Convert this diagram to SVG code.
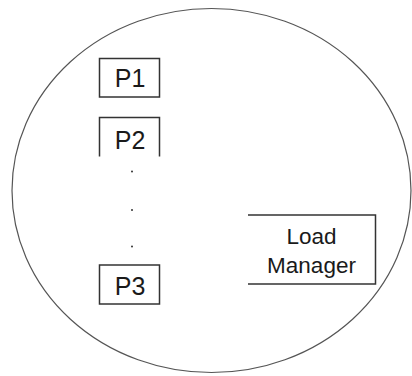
<svg xmlns="http://www.w3.org/2000/svg" width="412" height="376" viewBox="0 0 412 376">
<style>
.box{fill:none;stroke:#333;stroke-width:1.5}
.lbl{font-family:"Liberation Sans",Arial,sans-serif;fill:#1a1a1a;text-anchor:middle}
.dot{fill:#333}
</style>
<rect width="412" height="376" fill="#fff"/>
<g id="container">
<ellipse cx="211.5" cy="190.5" rx="199.5" ry="182" fill="none" stroke="#555" stroke-width="1.2"/>
</g>
<g id="p1">
<rect class="box" x="99.5" y="58.5" width="60" height="38.5"/>
<text class="lbl" x="130" y="87" font-size="25">P1</text>
</g>
<g id="p2">
<path class="box" d="M99.5,156.5 V117.5 H159.5 V156.5"/>
<text class="lbl" x="130" y="149" font-size="25">P2</text>
</g>
<g id="ellipsis">
<circle class="dot" cx="132" cy="171.5" r="1"/>
<circle class="dot" cx="132" cy="210" r="1"/>
<circle class="dot" cx="132" cy="246.5" r="1"/>
</g>
<g id="p3">
<rect class="box" x="99.5" y="265" width="60" height="39"/>
<text class="lbl" x="130" y="295" font-size="25">P3</text>
</g>
<g id="load-manager">
<path class="box" d="M248,215 H375.5 V284 H248"/>
<text class="lbl" x="311.5" y="244" font-size="22.5">Load</text>
<text class="lbl" x="311.5" y="273" font-size="22.5">Manager</text>
</g>
<g id="connectors"></g>
</svg>
